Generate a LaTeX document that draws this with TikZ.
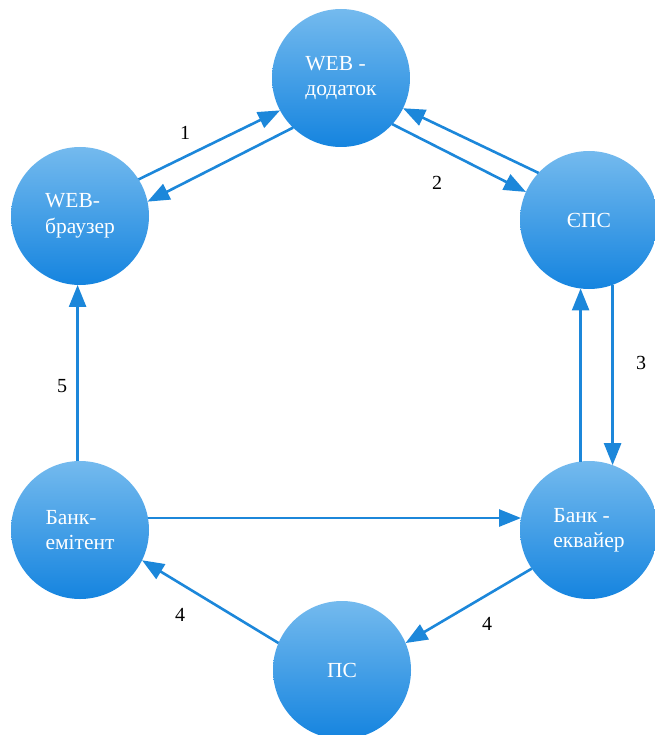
\documentclass[tikz,border=0pt]{standalone}
\usepackage{fontspec}
\setmainfont{Liberation Serif}
\usetikzlibrary{arrows.meta}
\definecolor{nodetop}{RGB}{116,186,238}
\definecolor{nodebot}{RGB}{21,132,223}
\definecolor{flow}{RGB}{28,135,218}
\begin{document}
\begin{tikzpicture}[x=1pt,y=-1pt,
  party/.style={circle, minimum size=138pt, inner sep=0pt, outer sep=0pt,
    top color=nodetop, bottom color=nodebot, draw=none, text=white,
    align=left, font=\rmfamily\fontsize{21.5}{25.5}\selectfont},
  flowline/.style={draw=flow, line width=2.6pt,
    -{Triangle[length=22pt,width=17pt]}},
  num/.style={font=\rmfamily\fontsize{20}{22}\selectfont, text=black}]
\useasboundingbox (0,0) rectangle (654,735);

% participants
\node[party] (wa) at (341,78)  {WEB -\\додаток};
\node[party] (br) at (80,216)  {WEB-\\браузер};
\node[party] (eps) at (589,220) {ЄПС};
\node[party] (em) at (80,530)  {Банк-\\емітент};
\node[party] (ek) at (589,530) {Банк -\\еквайер};
\node[party] (ps) at (342,670) {ПС};

% flows
\draw[flowline] (br.32)  -- (wa.208);
\draw[flowline] (wa.226) -- (br.12);
\draw[flowline] (eps.137) -- (wa.334);
\draw[flowline] (wa.318) -- (eps.156);
\draw[flowline] (ek.97)  -- (eps.263);
\draw[flowline] (eps.290) -- (ek.70);
\draw[flowline] (em.92)  -- (br.268);
\draw[flowline] (em.10)  -- (ek.170);
\draw[flowline] (ps.157) -- (em.334);
\draw[flowline] (ek.214) -- (ps.23);

% step numbers
\node[num] (n1) at (185,133) {1};
\node[num] (n2) at (437,183) {2};
\node[num] (n3) at (641,363) {3};
\node[num] (n5) at (62,386)  {5};
\node[num] (n4a) at (180,615) {4};
\node[num] (n4b) at (487,624) {4};
\end{tikzpicture}
\end{document}
